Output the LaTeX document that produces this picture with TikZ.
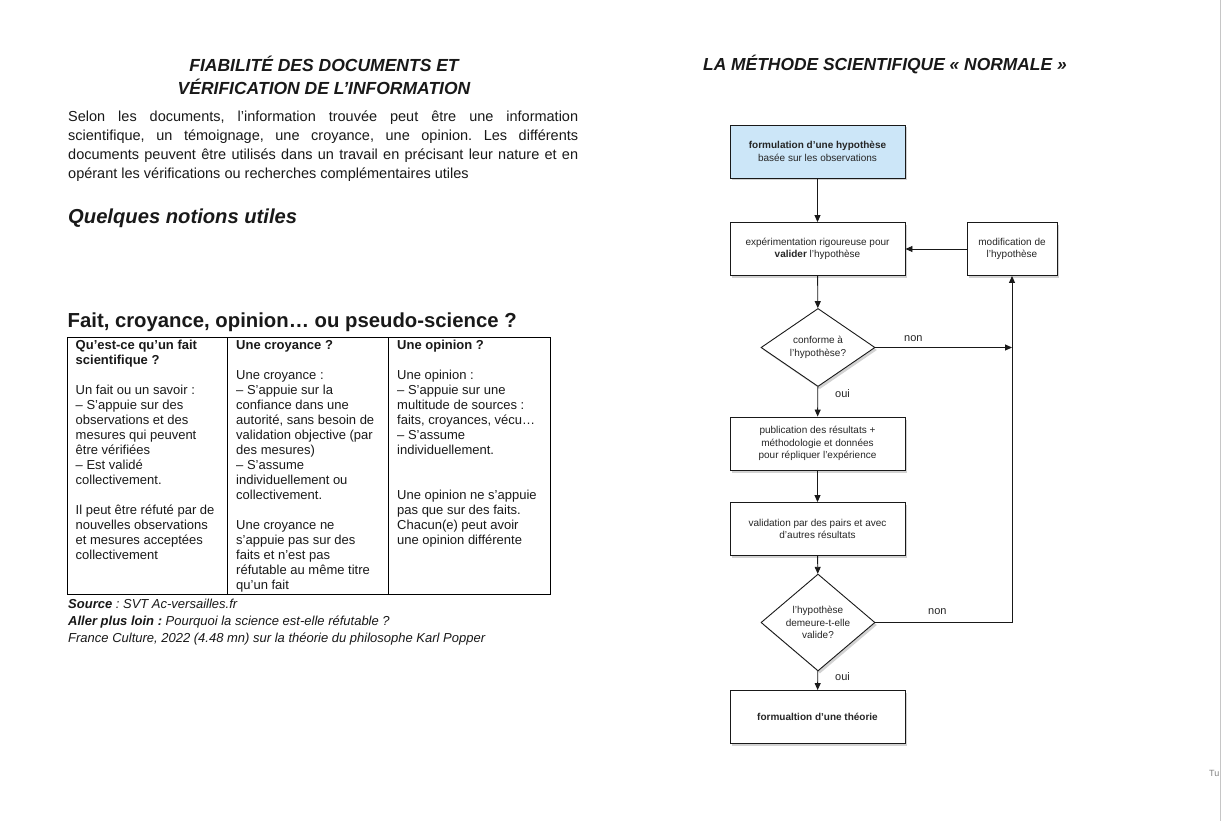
\documentclass[tikz,border=0pt]{standalone}
\usepackage{fontspec}
\setmainfont{Liberation Sans}
\usetikzlibrary{shapes.geometric,arrows.meta,shadows}
\frenchspacing
\begin{document}
\begin{tikzpicture}[x=1pt,y=-1pt,
  txt/.style={inner sep=0pt, text=black!90},
  cell/.style={txt, anchor=north west, align=left, font=\fontsize{13}{15}\selectfont},
  fbox/.style={draw=black!90, line width=0.9pt, fill=white, minimum width=175pt, minimum height=53pt,
     align=center, inner sep=2pt, font=\fontsize{10}{12.5}\selectfont, text=black!85,
     drop shadow={shadow xshift=2pt, shadow yshift=-2.5pt, opacity=0.35}},
  dec/.style={diamond, draw=black!90, line width=0.9pt, fill=white, minimum width=114pt, minimum height=72pt,
     inner sep=0pt, align=center, font=\fontsize{10}{12.5}\selectfont, text=black!85,
     drop shadow={shadow xshift=2pt, shadow yshift=-2.5pt, opacity=0.35}},
  arr/.style={-{Triangle[length=7pt,width=6pt]}, line width=0.9pt, draw=black!90},
  lab/.style={txt, font=\fontsize{11}{13}\selectfont, text=black!85}
]
\useasboundingbox (0,0) rectangle (1222,821);
\fill[white] (0,0) rectangle (1222,821);
\draw[gray!45, line width=1.5pt] (1220.5,0) -- (1220.5,821);
\node[txt, anchor=west, font=\fontsize{9}{11}\selectfont, text=gray] (tu) at (1209,773) {Tu};

% ---------- left page ----------
\node[txt, anchor=north, align=center, font=\bfseries\itshape\fontsize{17.5}{23}\selectfont] (title) at (324,56)
  {FIABILITÉ DES DOCUMENTS ET\\VÉRIFICATION DE L’INFORMATION};

\node[txt, anchor=north west, text width=510pt, align=justify, font=\fontsize{14.5}{19}\selectfont] (intro) at (68,111)
  {Selon les documents, l’information trouvée peut être une information\linebreak
   scientifique, un témoignage, une croyance, une opinion. Les différents\linebreak
   documents peuvent être utilisés dans un travail en précisant leur nature et en\linebreak
   opérant les vérifications ou recherches complémentaires utiles};

\node[txt, anchor=west, font=\bfseries\itshape\fontsize{20.2}{23}\selectfont] (notions) at (68,218) {Quelques notions utiles};

\node[txt, anchor=west, font=\bfseries\fontsize{20.3}{24}\selectfont] (fait) at (67.5,322) {Fait, croyance, opinion… ou pseudo-science ?};

% table
\draw[line width=0.9pt] (67,337) rectangle (550,594);
\draw[line width=0.9pt] (227,337) -- (227,594) (388,337) -- (388,594);

\node[cell] (c1) at (75.5,340) {\textbf{Qu’est-ce qu’un fait}\\\textbf{scientifique ?}\\[15pt]
  Un fait ou un savoir :\\– S’appuie sur des\\observations et des\\mesures qui peuvent\\être vérifiées\\– Est validé\\collectivement.\\[15pt]
  Il peut être réfuté par de\\nouvelles observations\\et mesures acceptées\\collectivement};

\node[cell] (c2) at (236,340) {\textbf{Une croyance ?}\\[15pt]
  Une croyance :\\– S’appuie sur la\\confiance dans une\\autorité, sans besoin de\\validation objective (par\\des mesures)\\– S’assume\\individuellement ou\\collectivement.\\[15pt]
  Une croyance ne\\s’appuie pas sur des\\faits et n’est pas\\réfutable au même titre\\qu’un fait};

\node[cell] (c3) at (397,340) {\textbf{Une opinion ?}\\[15pt]
  Une opinion :\\– S’appuie sur une\\multitude de sources :\\faits, croyances, vécu…\\– S’assume\\individuellement.\\[30pt]
  Une opinion ne s’appuie\\pas que sur des faits.\\Chacun(e) peut avoir\\une opinion différente};

\node[txt, anchor=north west, align=left, font=\itshape\fontsize{13}{17}\selectfont] (src) at (68,599)
  {\textbf{Source} : SVT Ac-versailles.fr\\
   \textbf{Aller plus loin :} Pourquoi la science est-elle réfutable ?\\
   France Culture, 2022 (4.48 mn) sur la théorie du philosophe Karl Popper};

% ---------- right page ----------
\node[txt, anchor=west, font=\bfseries\itshape\fontsize{17.4}{20}\selectfont] (rtitle) at (703,65)
  {LA MÉTHODE SCIENTIFIQUE «~NORMALE~»};

\node[fbox, fill={rgb,255:red,204;green,230;blue,248}] (b1) at (817.5,151.5)
  {\textbf{formulation d'une hypothèse}\\basée sur les observations};
\node[fbox] (b2) at (817.5,249) {expérimentation rigoureuse pour\\\textbf{valider} l'hypothèse};
\node[fbox, minimum width=90pt] (b3) at (1012,249) {modification de\\l'hypothèse};
\node[dec] (d1) at (818,347.5) {conforme à\\l'hypothèse?};
\node[fbox] (b4) at (817.5,443.5) {publication des résultats +\\méthodologie et données\\pour répliquer l'expérience};
\node[fbox] (b5) at (817.5,529) {validation par des pairs et avec\\d'autres résultats};
\node[dec] (d2) at (818,622.5) {l'hypothèse\\demeure-t-elle\\valide?};
\node[fbox] (b6) at (817.5,717) {\textbf{formualtion d'une théorie}};

\coordinate (k1) at (1012,347.5);
\coordinate (k2) at (1012,622.5);

\draw[arr] (b1) -- (b2);
\draw[arr] (b2) -- (d1);
\draw[arr] (d1) -- (b4);
\draw[arr] (b4) -- (b5);
\draw[arr] (b5) -- (d2);
\draw[arr] (d2) -- (b6);
\draw[arr] (b3) -- (b2);
\draw[arr] (d1.east) -- (k1);
\draw[arr] (d2.east) -- (k2) -- (b3.south);

\node[lab, anchor=west] (non1) at (904,339) {non};
\node[lab, anchor=west] (oui1) at (835,394) {oui};
\node[lab, anchor=west] (non2) at (928,612) {non};
\node[lab, anchor=west] (oui2) at (835,677) {oui};
\end{tikzpicture}
\end{document}
